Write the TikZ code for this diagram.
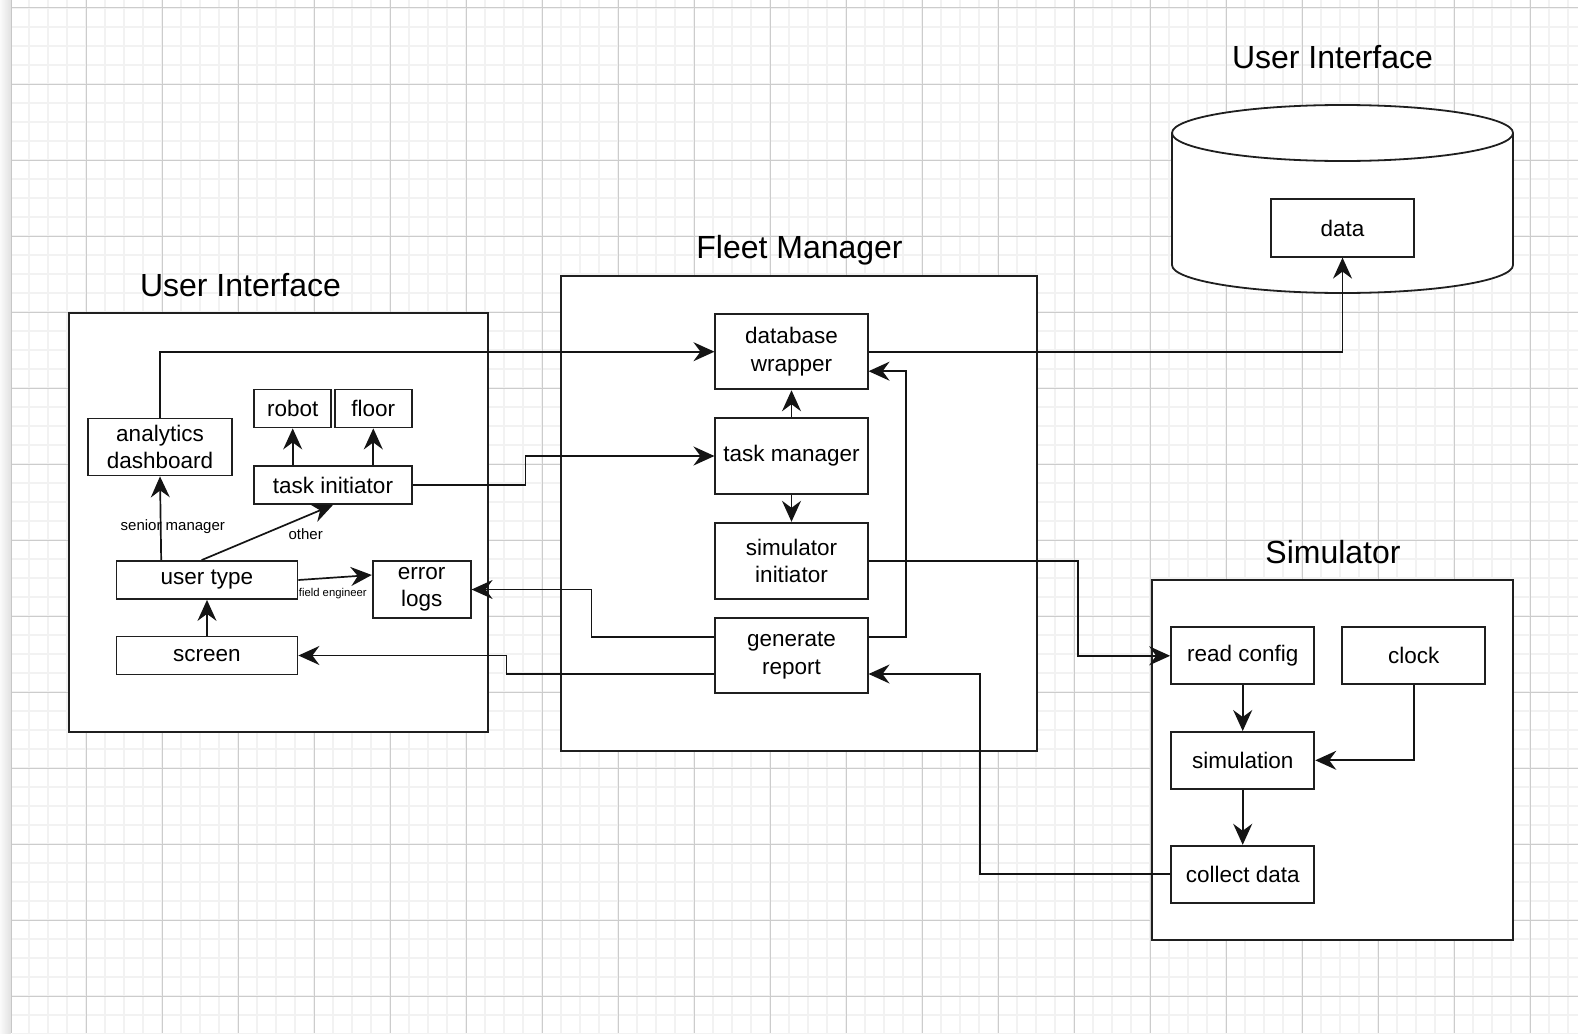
\documentclass[tikz,border=0pt]{standalone}
\usepackage{fontspec}
\setmainfont{Liberation Sans}
\usetikzlibrary{arrows.meta,calc}
\begin{document}
\begin{tikzpicture}[x=1pt,y=-1pt,
  box/.style={draw=black!88, line width=1.8pt, fill=white, inner sep=0pt, align=center, font=\fontsize{22.5}{27.5}\selectfont},
  cont/.style={draw=black!88, line width=1.8pt, fill=white},
  conn/.style={draw=black!92, line width=1.7pt, -{Stealth[length=21pt,width=19pt,inset=7pt]}},
  plain/.style={draw=black!92, line width=1.7pt},
  title/.style={anchor=base, inner sep=0pt, font=\fontsize{32}{38}\selectfont},
  lab/.style={anchor=base, inner sep=0pt, font=\fontsize{15}{18}\selectfont},
  minorgrid/.style={draw=black!5, line width=1.6pt},
  majorgrid/.style={draw=black!20, line width=1pt},
]
\useasboundingbox (0,0) rectangle (1578,1033);
\clip (0,0) rectangle (1578,1033);
\fill[white] (0,0) rectangle (1578,1033);
% grid
\foreach \i in {1,...,82} \draw[minorgrid] (10+19*\i,0) -- (10+19*\i,1033);
\foreach \i in {-1,...,54} \draw[minorgrid] (12,8+19*\i) -- (1578,8+19*\i);
\foreach \i in {1,...,20} \draw[majorgrid] (10+76*\i,0) -- (10+76*\i,1033);
\foreach \i in {0,...,13} \draw[majorgrid] (12,8+76*\i) -- (1578,8+76*\i);
% left strip
\shade[left color=black!2, right color=black!12] (0,0) rectangle (11,1033);
\draw[black!22, line width=0.8pt] (11,0) -- (11,1033);

% containers
\draw[cont] (69,313) rectangle (488,732);
\draw[cont] (561,276) rectangle (1037,751);
\draw[cont] (1152,580) rectangle (1513,940);
% cylinder
\path[fill=white] (1172,133) -- (1172,265) arc[start angle=180,end angle=360,x radius=170.5pt,y radius=28pt] -- (1513,133) arc[start angle=0,end angle=180,x radius=170.5pt,y radius=28pt] -- cycle;
\draw[draw=black!88, line width=1.8pt] (1172,133) -- (1172,265) arc[start angle=180,end angle=360,x radius=170.5pt,y radius=28pt] -- (1513,133);
\draw[draw=black!88, line width=1.8pt, fill=white] (1342.5,133) ellipse[x radius=170.5pt, y radius=28pt];

% titles
\node[title] (t1) at (240.5,296) {User Interface};
\node[title] (t2) at (799.5,258) {Fleet Manager};
\node[title] (t3) at (1332.5,68) {User Interface};
\node[title] (t4) at (1333,563) {Simulator};

% user interface nodes
\node[box, minimum width=144pt, minimum height=57pt] (anal) at (160,447) {analytics\\dashboard};
\node[box, minimum width=76.7pt, minimum height=38pt] (robot) at (292.7,408.5) {robot};
\node[box, minimum width=76.7pt, minimum height=38pt] (floor) at (373.3,408.5) {floor};
\node[box, minimum width=157.3pt, minimum height=38pt] (ti) at (333,485) {task initiator};
\node[box, minimum width=181pt, minimum height=38pt] (ut) at (207,580) {user type};
\node[box, minimum width=98pt, minimum height=57pt] (el) at (421.7,589.5) {error\\logs};
\node[box, minimum width=181pt, minimum height=38pt] (scr) at (207,655.5) {screen};

% fleet manager nodes
\node[box, minimum width=152.3pt, minimum height=75.3pt] (dw) at (791.5,351.7) {database\\wrapper};
\node[box, minimum width=152.3pt, minimum height=76pt] (tm) at (791.5,456) {task manager};
\node[box, minimum width=152.3pt, minimum height=76pt] (si) at (791.5,560.7) {simulator\\initiator};
\node[box, minimum width=152.3pt, minimum height=75.7pt] (gr) at (791.5,655.5) {generate\\report};

% database
\node[box, minimum width=143pt, minimum height=57.4pt] (data) at (1342.5,228) {data};

% simulator nodes
\node[box, minimum width=143.3pt, minimum height=57pt] (rc) at (1242.7,655.8) {read config};
\node[box, minimum width=143pt, minimum height=57pt] (clk) at (1413.8,655.8) {clock};
\node[box, minimum width=143.3pt, minimum height=56.7pt] (sim) at (1242.7,760.3) {simulation};
\node[box, minimum width=143.3pt, minimum height=57pt] (cd) at (1242.7,874.2) {collect data};

% connectors inside user interface
\draw[conn] ($(ut.north west)+(45.6,0)$) -- (anal.south);
\draw[conn] ($(ut.north west)+(86,0)$) -- (ti.south);
\draw[conn] (ut.east) -- ($(el.west)+(0,-14.5)$);
\draw[conn] (scr.north) -- (ut.south);
\draw[conn] (ti.north -| robot.south) -- (robot.south);
\draw[conn] (ti.north -| floor.south) -- (floor.south);
\node[lab] (l1) at (172.8,530) {senior manager};
\node[lab] (l2) at (305.7,539) {other};
\node[lab, font=\fontsize{11.3}{13}\selectfont] (l3) at (332.8,596.5) {field engineer};

% cross connectors
\draw[conn] (anal.north) |- (dw.west);
\draw[conn] (ti.east) -- ++(113,0) |- (tm.west);
\draw[conn] (tm.north) -- (dw.south);
\draw[conn] (tm.south) -- (si.north);
\draw[conn] (dw.east) -| (data.south);
\draw[conn] ($(gr.east)+(0,-18.5)$) -- ++(37.3,0) |- ($(dw.east)+(0,19.5)$);
\draw[conn] ($(gr.west)+(0,-18.5)$) -- ++(-123,0) |- (el.east);
\draw[conn] ($(gr.west)+(0,18.5)$) -- ++(-208,0) |- (scr.east);
\draw[conn] (si.east) -- ++(209.3,0) |- (rc.west);
\draw[conn] (cd.west) -- ++(-190,0) |- ($(gr.east)+(0,18.5)$);

% simulator connectors
\draw[conn] (rc.south) -- (sim.north);
\draw[conn] (sim.south) -- (cd.north);
\draw[conn] (clk.south) |- (sim.east);
\end{tikzpicture}
\end{document}
